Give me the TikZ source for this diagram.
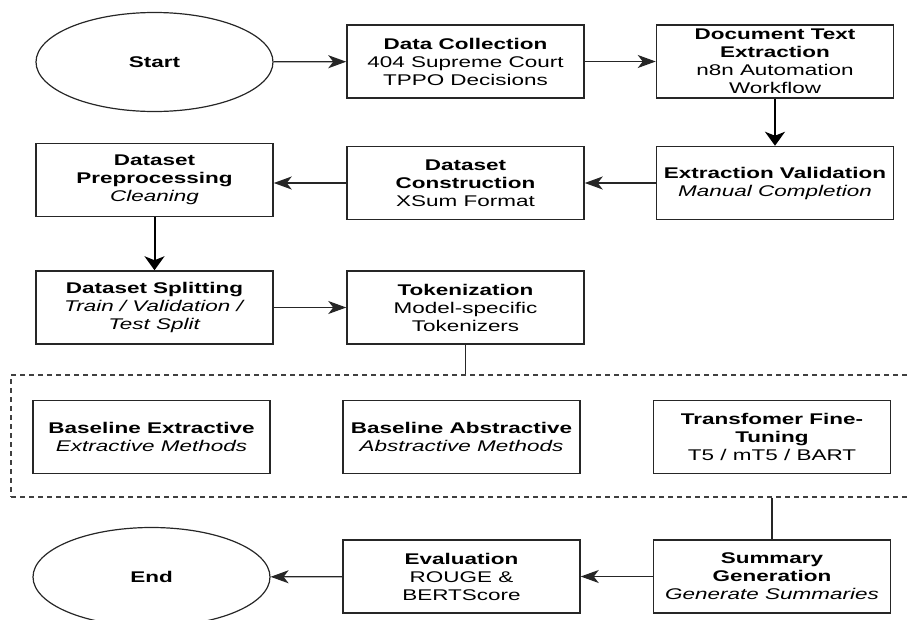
\documentclass[tikz,border=0pt]{standalone}
\usepackage{fontspec}
\setmainfont{Liberation Sans}[FakeStretch=1.45]
\usetikzlibrary{arrows.meta,shapes.geometric}
\begin{document}
\begin{tikzpicture}[x=1pt,y=-1pt,
  every node/.style={font=\fontsize{15.5}{18}\selectfont, align=center},
  box/.style={draw=black!85, line width=1.5pt, rectangle, minimum width=237pt, minimum height=73pt, inner sep=0pt},
  oval/.style={draw=black!85, line width=1.2pt, ellipse, minimum width=237pt, minimum height=99pt, inner sep=0pt},
  grp/.style={draw=black!75, line width=1.3pt, dash pattern=on 5pt off 4pt, rectangle, inner sep=0pt},
  arr/.style={draw=black!85, line width=1.3pt, -{Stealth[length=18pt,width=13pt,inset=5pt]}},
  varr/.style={draw=black, line width=2pt, -{Stealth[length=14pt,width=20pt,inset=4pt]}},
  link/.style={draw=black!85, line width=1.5pt}
]
\useasboundingbox (0,0) rectangle (908,619);

\node[oval] (start) at (154.5,62) {\textbf{Start}};
\node[box] (dc) at (465.5,61.5) {\textbf{Data Collection}\\404 Supreme Court\\TPPO Decisions};
\node[box] (dte) at (775,61.5) {\textbf{Document Text}\\\textbf{Extraction}\\n8n Automation\\Workflow};
\node[box] (ev) at (775,183) {\textbf{Extraction Validation}\\\textit{Manual Completion}};
\node[box] (dcons) at (465.5,183) {\textbf{Dataset}\\\textbf{Construction}\\XSum Format};
\node[box] (pre) at (154.5,180) {\textbf{Dataset}\\\textbf{Preprocessing}\\\textit{Cleaning}};
\node[box] (split) at (154.5,307.5) {\textbf{Dataset Splitting}\\\textit{Train / Validation /}\\\textit{Test Split}};
\node[box] (tok) at (465.5,307.5) {\textbf{Tokenization}\\Model-specific\\Tokenizers};

\node[grp, minimum width=909pt, minimum height=122pt] (group) at (465.5,436) {};
\node[box] (be) at (151.5,437) {\textbf{Baseline Extractive}\\\textit{Extractive Methods}};
\node[box] (ba) at (461.5,437) {\textbf{Baseline Abstractive}\\\textit{Abstractive Methods}};
\node[box] (tft) at (772,437) {\textbf{Transfomer Fine-}\\\textbf{Tuning}\\T5 / mT5 / BART};

\node[box] (sg) at (772,576.5) {\textbf{Summary}\\\textbf{Generation}\\\textit{Generate Summaries}};
\node[box] (eval) at (461.5,576.5) {\textbf{Evaluation}\\ROUGE \&\\BERTScore};
\node[oval] (end) at (151.5,577) {\textbf{End}};

\draw[arr] (start) -- (dc);
\draw[arr] (dc) -- (dte);
\draw[varr] (dte) -- (ev);
\draw[arr] (ev) -- (dcons);
\draw[arr] (dcons.west) -- (pre.east |- dcons.west);
\draw[varr] (pre) -- (split);
\draw[arr] (split) -- (tok);
\draw[link] (tok.south) -- (tok.south |- group.north);
\draw[link] (group.south -| sg.north) -- (sg.north);
\draw[arr] (sg) -- (eval);
\draw[arr] (eval) -- (end);
\end{tikzpicture}
\end{document}
